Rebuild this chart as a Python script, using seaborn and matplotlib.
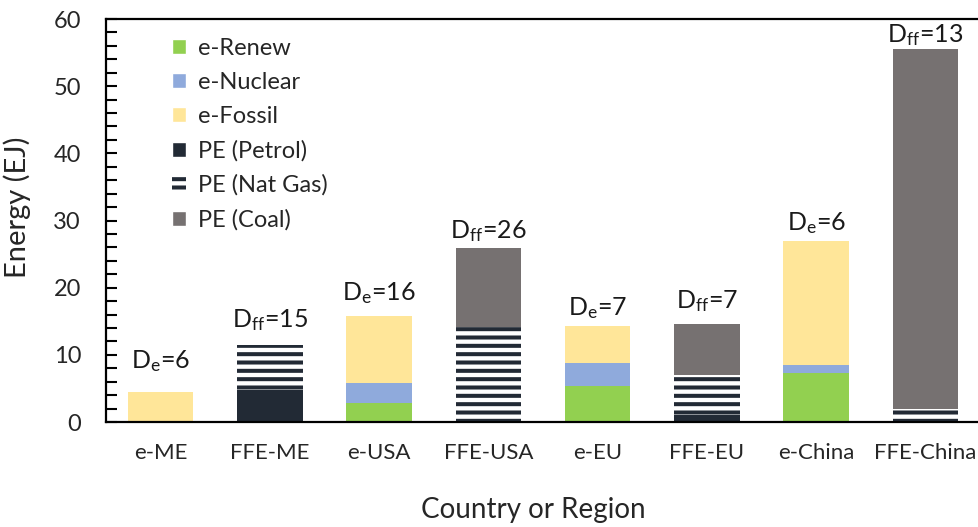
import matplotlib
matplotlib.use('Agg')
import matplotlib.pyplot as plt
import seaborn as sns
import pandas as pd
from matplotlib.patches import Patch
from matplotlib.ticker import MultipleLocator

regions = ['e-ME', 'FFE-ME', 'e-USA', 'FFE-USA', 'e-EU', 'FFE-EU', 'e-China', 'FFE-China']
e_renew = [0, 0, 2.8, 0, 5.3, 0, 7.25, 0]
e_nuclear = [0, 0, 3.0, 0, 3.5, 0, 1.25, 0]
e_fossil = [4.5, 0, 10.0, 0, 5.5, 0, 18.5, 0]
pe_petrol = [0, 4.7, 0, 0, 0, 1.0, 0, 0]
pe_natgas = [0, 6.7, 0, 14.1, 0, 6.0, 0, 2.0]
pe_coal = [0, 0, 0, 11.8, 0, 7.6, 0, 53.6]
dep_labels = ['D$_e$=6', 'D$_{ff}$=15', 'D$_e$=16', 'D$_{ff}$=26',
              'D$_e$=7', 'D$_{ff}$=7', 'D$_e$=6', 'D$_{ff}$=13']

# how far above each bar its label sits (in EJ)
label_offset = [3.5, 2.8, 2.4, 1.5, 1.6, 2.3, 1.6, 1.0]

sns.set_style('white')
plt.rcParams['font.family'] = ['Lato', 'DejaVu Sans']
plt.rcParams['mathtext.default'] = 'regular'
plt.rcParams['hatch.linewidth'] = 2.9
plt.rcParams['hatch.color'] = '#222a35'

c_renew, c_nuc, c_fossil = '#92d050', '#8faadc', '#ffe699'
c_petrol, c_coal = '#222a35', '#767171'

df = pd.DataFrame({'region': regions})
df['renew'] = e_renew
df['nuclear'] = df['renew'] + e_nuclear
df['fossil'] = df['nuclear'] + e_fossil
df['petrol'] = pe_petrol
df['natgas'] = df['petrol'] + pe_natgas
df['coal'] = df['natgas'] + pe_coal
df['total'] = df[['fossil', 'coal']].max(axis=1)

fig = plt.figure(figsize=(9.79, 5.27), dpi=100)
ax = fig.add_axes([0.1083, 0.1992, 0.8927, 0.7647])

# cumulative layers, tallest first so the lower ones paint over them
kw = dict(data=df, x='region', width=0.6, saturation=1, errorbar=None, ax=ax)
sns.barplot(y='fossil', color=c_fossil, linewidth=0, **kw)
sns.barplot(y='coal', color=c_coal, linewidth=0, **kw)
sns.barplot(y='nuclear', color=c_nuc, linewidth=0, **kw)
sns.barplot(y='natgas', color='white', hatch='--', edgecolor=c_petrol, linewidth=0, **kw)
sns.barplot(y='renew', color=c_renew, linewidth=0, **kw)
sns.barplot(y='petrol', color=c_petrol, linewidth=0, **kw)

for i, (t, lab) in enumerate(zip(df['total'], dep_labels)):
    ax.text(i, t + label_offset[i], lab, ha='center', va='baseline',
            fontsize=18, color='#1a1a1a', clip_on=False)

ax.set_xlim(-0.5, 7.5)
ax.set_ylim(0, 60)
ax.yaxis.set_major_locator(MultipleLocator(10))
ax.yaxis.set_minor_locator(MultipleLocator(2))
ax.tick_params(axis='y', which='both', direction='in', length=8, width=1.5,
               left=True, labelsize=17, pad=18, colors='black')
ax.tick_params(axis='y', labelcolor='#262626')
ax.tick_params(axis='x', length=0, labelsize=16, pad=15, labelcolor='#262626')
for s in ['left', 'bottom', 'top']:
    ax.spines[s].set_visible(True)
    ax.spines[s].set_color('black')
    ax.spines[s].set_linewidth(1.6)
ax.spines['right'].set_visible(False)

ax.set_ylabel('Energy (EJ)', fontsize=21, color='#262626')
ax.set_xlabel('Country or Region', fontsize=20, color='#262626')
ax.yaxis.set_label_coords(-0.086, 0.533)
ax.xaxis.set_label_coords(0.4886, -0.185)

handles = [
    Patch(facecolor=c_renew, label='e-Renew'),
    Patch(facecolor=c_nuc, label='e-Nuclear'),
    Patch(facecolor=c_fossil, label='e-Fossil'),
    Patch(facecolor=c_petrol, label='PE (Petrol)'),
    Patch(facecolor='white', hatch='--', edgecolor=c_petrol, linewidth=0, label='PE (Nat Gas)'),
    Patch(facecolor=c_coal, label='PE (Coal)'),
]
ax.legend(handles=handles, loc='upper left', bbox_to_anchor=(0.0755, 0.953),
          frameon=False, fontsize=17, handlelength=0.6, handleheight=0.6,
          handletextpad=0.5, labelspacing=0.55, borderpad=0, borderaxespad=0,
          labelcolor='#262626')

fig.savefig('out.png', dpi=100)
